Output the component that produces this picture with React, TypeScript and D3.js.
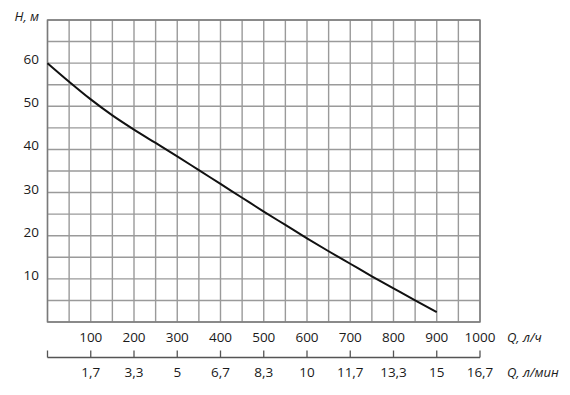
import React from "react";
import * as d3 from "d3";

const flowLh = [0, 50, 100, 150, 200, 250, 300, 350, 400, 450, 500, 550, 600, 650, 700, 750, 800, 850, 900];
const headM = [60, 55.7, 51.6, 47.9, 44.6, 41.5, 38.4, 35.2, 32.0, 28.8, 25.6, 22.5, 19.4, 16.4, 13.5, 10.6, 7.8, 5.0, 2.3];
const xTicks = [100, 200, 300, 400, 500, 600, 700, 800, 900, 1000];
const minTickLabels = ["1,7", "3,3", "5", "6,7", "8,3", "10", "11,7", "13,3", "15", "16,7"];
const yTicks = [10, 20, 30, 40, 50, 60];

const W = 570, H = 395;
const left = 47.5, right = 480, top = 20, bottom = 322;

export default function App() {
  const x = d3.scaleLinear().domain([0, 1000]).range([left, right]);
  const y = d3.scaleLinear().domain([0, 70]).range([bottom, top]);
  const gridX = d3.range(0, 1001, 50);
  const gridY = d3.range(0, 71, 5);
  const line = d3
    .line<number>()
    .x((_, i) => x(flowLh[i]))
    .y((d) => y(d))
    .curve(d3.curveMonotoneX);
  const font = "'Open Sans', 'Noto Sans', sans-serif";
  const axisY = 357.5;
  return (
    <svg width={W} height={H} style={{ position: "absolute", left: 0, top: 0 }} fontFamily={font}>
      <rect width={W} height={H} fill="#fff" />
      {gridX.map((v) => (
        <line key={"gx" + v} x1={x(v)} x2={x(v)} y1={top} y2={bottom} stroke="#9a9a9a" strokeWidth={1.4} />
      ))}
      {gridY.map((v) => (
        <line key={"gy" + v} x1={left} x2={right} y1={y(v)} y2={y(v)} stroke="#9a9a9a" strokeWidth={1.4} />
      ))}
      <rect x={left} y={top} width={right - left} height={bottom - top} fill="none" stroke="#7a7a7a" strokeWidth={1.4} />
      <path d={line(headM) || ""} fill="none" stroke="#111" strokeWidth={2} />
      {yTicks.map((v) => (
        <text key={"yl" + v} x={39} y={y(v) + 1} textAnchor="end" fontSize={13.5} fill="#1a1a1a">
          {v}
        </text>
      ))}
      <text x={39} y={21} textAnchor="end" fontSize={13} fontStyle="italic" fill="#1a1a1a">
        H, м
      </text>
      {xTicks.map((v) => (
        <text key={"xl" + v} x={x(v)} y={342} textAnchor="middle" fontSize={13.5} fill="#1a1a1a">
          {v}
        </text>
      ))}
      <text x={507} y={342} fontSize={13} fontStyle="italic" fill="#1a1a1a">
        Q, л/ч
      </text>
      <line x1={left} x2={right} y1={axisY} y2={axisY} stroke="#555" strokeWidth={1.3} />
      <line x1={left} x2={left} y1={axisY - 7} y2={axisY} stroke="#555" strokeWidth={1.3} />
      {xTicks.map((v, i) => (
        <g key={"mt" + v}>
          <line x1={x(v)} x2={x(v)} y1={axisY - 7} y2={axisY} stroke="#555" strokeWidth={1.3} />
          <text x={x(v)} y={377} textAnchor="middle" fontSize={13.5} fill="#1a1a1a">
            {minTickLabels[i]}
          </text>
        </g>
      ))}
      <text x={507} y={377} fontSize={13} fontStyle="italic" fill="#1a1a1a">
        Q, л/мин
      </text>
    </svg>
  );
}
